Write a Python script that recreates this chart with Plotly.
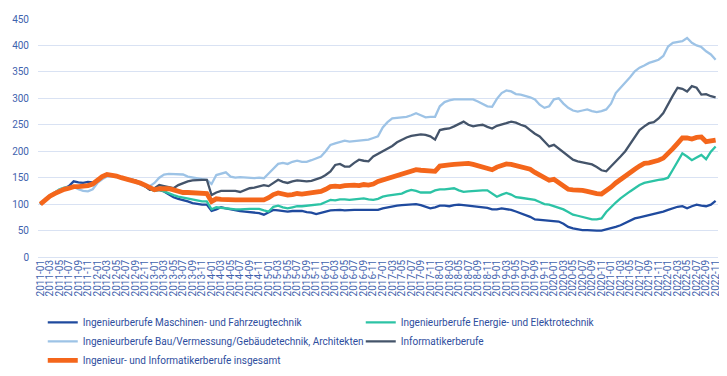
import plotly.graph_objects as go

# Month categories 2011-01 .. 2022-11
months = [f"{y}-{m:02d}" for y in range(2011, 2023) for m in range(1, 13)][:143]
tick_labels = months[::2]

maschinen = [
    100, 109, 116, 121, 126, 130, 134, 143, 141, 140, 142, 141,
    145, 152, 156, 155, 152, 150, 148, 146, 143, 140, 134, 128,
    126, 127, 124, 118, 113, 110, 108, 105, 102, 100, 99, 99,
    87, 90, 94, 92, 90, 89, 87, 86, 85, 84, 83, 80,
    84, 89, 88, 87, 86, 87, 87, 87, 85, 84, 81, 84,
    86, 88, 89, 89, 88, 89, 89, 89, 89, 89, 89, 89,
    92, 94, 96, 97, 98, 99, 100, 100, 98, 95, 92, 94,
    97, 97, 96, 98, 99, 98, 97, 95, 94, 94, 93, 90,
    90, 92, 91, 89, 86, 83, 80, 76, 71, 70, 69, 68,
    67, 67, 63, 57, 54, 52, 51, 51, 50, 50, 50, 52,
    54, 57, 60, 64, 69, 73, 75, 77, 80, 82, 83, 86,
    89, 92, 95, 96, 92, 96, 99, 97, 96, 99, 106,
]

energie = [
    100, 109, 116, 122, 128, 131, 132, 132, 133, 133, 134, 138,
    145, 152, 156, 155, 152, 150, 148, 146, 143, 140, 134, 128,
    125, 127, 124, 120, 117, 114, 112, 110, 108, 106, 105, 105,
    90, 94, 93, 91, 91, 90, 90, 91, 91, 91, 91, 88,
    86, 95, 97, 94, 92, 94, 96, 96, 97, 97, 98, 100,
    104, 108, 107, 109, 109, 108, 109, 110, 111, 109, 108, 110,
    114, 116, 117, 118, 120, 124, 127, 125, 122, 122, 122, 126,
    128, 128, 129, 130, 126, 123, 124, 125, 125, 126, 126, 120,
    114, 118, 121, 118, 113, 112, 111, 110, 108, 104, 100, 99,
    96, 94, 90, 85, 80, 78, 76, 74, 71, 71, 73, 85,
    95, 103, 111, 118, 124, 130, 136, 140, 142, 145, 146, 147,
    150, 165, 180, 196, 190, 183, 188, 193, 185, 199, 209,
]

bau = [
    100, 110, 117, 122, 127, 130, 132, 133, 128, 125, 124, 128,
    140, 147, 152, 153, 151, 149, 147, 145, 141, 137, 133, 134,
    140, 150, 156, 157, 157, 157, 156, 152, 150, 148, 147, 146,
    138, 155, 158, 160, 152, 150, 151, 150, 150, 149, 150, 149,
    158, 168, 176, 178, 176, 180, 182, 180, 180, 183, 186, 190,
    200, 212, 215, 217, 220, 218, 219, 220, 221, 222, 225, 228,
    245, 255, 262, 263, 263, 265, 268, 272, 268, 264, 265, 265,
    285, 293, 296, 298, 298, 298, 299, 298, 294, 289, 285, 284,
    299, 310, 315, 313, 308, 307, 305, 302, 298, 288, 282, 285,
    298, 300, 290, 282, 277, 275, 277, 279, 276, 274, 276, 279,
    290, 310, 320, 329, 340, 351, 358, 362, 367, 370, 373, 380,
    398, 405, 406, 408, 414, 405, 400, 397, 389, 383, 373,
]

informatik = [
    100, 108, 115, 120, 125, 128, 130, 134, 133, 134, 136, 138,
    146, 152, 156, 155, 152, 150, 148, 147, 145, 141, 134, 127,
    130, 136, 134, 132, 130, 136, 140, 143, 145, 146, 146, 146,
    117, 122, 125, 125, 125, 125, 123, 127, 130, 131, 134, 136,
    134, 140, 146, 142, 140, 143, 145, 144, 143, 144, 147, 150,
    155, 162, 174, 176, 171, 171, 178, 184, 182, 181, 190, 195,
    200, 205, 210, 217, 222, 226, 229, 230, 232, 231, 228, 222,
    240, 242, 243, 247, 252, 256, 250, 247, 249, 250, 246, 243,
    248, 250, 253, 256, 254, 250, 247, 240, 233, 228, 218, 209,
    212, 205, 198, 190, 184, 181, 179, 178, 175, 170, 164, 162,
    171, 180, 190, 200, 213, 226, 240, 247, 253, 255, 262, 272,
    290, 305, 320, 318, 313, 323, 320, 307, 308, 304, 302,
]

insgesamt = [
    100, 108, 115, 120, 125, 128, 130, 133, 133, 133, 135, 138,
    145, 152, 156, 155, 153, 150, 148, 146, 143, 140, 136, 131,
    127, 129, 130, 129, 127, 124, 122, 122, 122, 121, 121, 120,
    105, 110, 109, 108, 108, 108, 108, 108, 108, 108, 108, 108,
    112, 118, 121, 119, 117, 118, 120, 119, 120, 121, 122, 124,
    128, 133, 134, 133, 135, 136, 136, 135, 137, 136, 138, 143,
    146, 149, 152, 155, 157, 160, 163, 165, 164, 164, 163, 162,
    172, 174, 174, 175, 176, 177, 177, 175, 172, 170, 168, 165,
    170, 174, 176, 175, 173, 171, 168, 166, 160, 155, 150, 145,
    147, 141, 134, 128, 127, 127, 126, 124, 121, 120, 119, 125,
    132, 140, 147, 153, 160, 166, 172, 177, 178, 180, 183, 187,
    195, 205, 215, 225, 225, 223, 226, 227, 218, 220, 221,
]

series = [
    ("Ingenieurberufe Maschinen- und Fahrzeugtechnik", maschinen, "#1F4A9E", 2.3),
    ("Ingenieurberufe Energie- und Elektrotechnik", energie, "#2CC3A5", 2.3),
    ("Ingenieurberufe Bau/Vermessung/Gebäudetechnik, Architekten", bau, "#9DC3E6", 2.3),
    ("Informatikerberufe", informatik, "#44546A", 2.3),
    ("Ingenieur- und Informatikerberufe insgesamt", insgesamt, "#F4661B", 4.8),
]

fig = go.Figure()
for name, vals, color, w in series:
    fig.add_trace(go.Scatter(
        x=months, y=vals, name=name, mode="lines",
        line=dict(color=color, width=w),
    ))

tick_color = "#3F63AE"
# the page body adds an 8px margin, so the figure is sized to fit inside it
fig.update_layout(
    width=716, height=360,
    margin=dict(l=30, r=6, t=11, b=111, autoexpand=False),
    paper_bgcolor="white", plot_bgcolor="white",
    font=dict(family="Roboto, Arial, sans-serif", size=10, color=tick_color),
    showlegend=True,
    legend=dict(
        orientation="h",
        x=0.007, xanchor="left",
        y=-0.214, yanchor="top",
        entrywidth=273, entrywidthmode="pixels",
        font=dict(size=10, color="#2E4E9E"),
        itemwidth=30,
        traceorder="normal",
    ),
)
fig.update_xaxes(
    type="category",
    categoryorder="array", categoryarray=months,
    range=[-0.5, 142.5], autorange=False,
    tickmode="array", tickvals=tick_labels, ticktext=tick_labels,
    tickangle=-90, automargin=False,
    showgrid=False, zeroline=False, showline=False,
    ticks="", tickfont=dict(size=10, color=tick_color),
)
fig.update_yaxes(
    range=[0, 450], dtick=50, automargin=False,
    showgrid=True, gridcolor="#D9E2F3", gridwidth=1,
    zeroline=True, zerolinecolor="#D9E2F3", zerolinewidth=1,
    showline=False, ticks="", ticklabelstandoff=8,
    tickfont=dict(size=10, color=tick_color),
)

fig.write_html("out.html")
